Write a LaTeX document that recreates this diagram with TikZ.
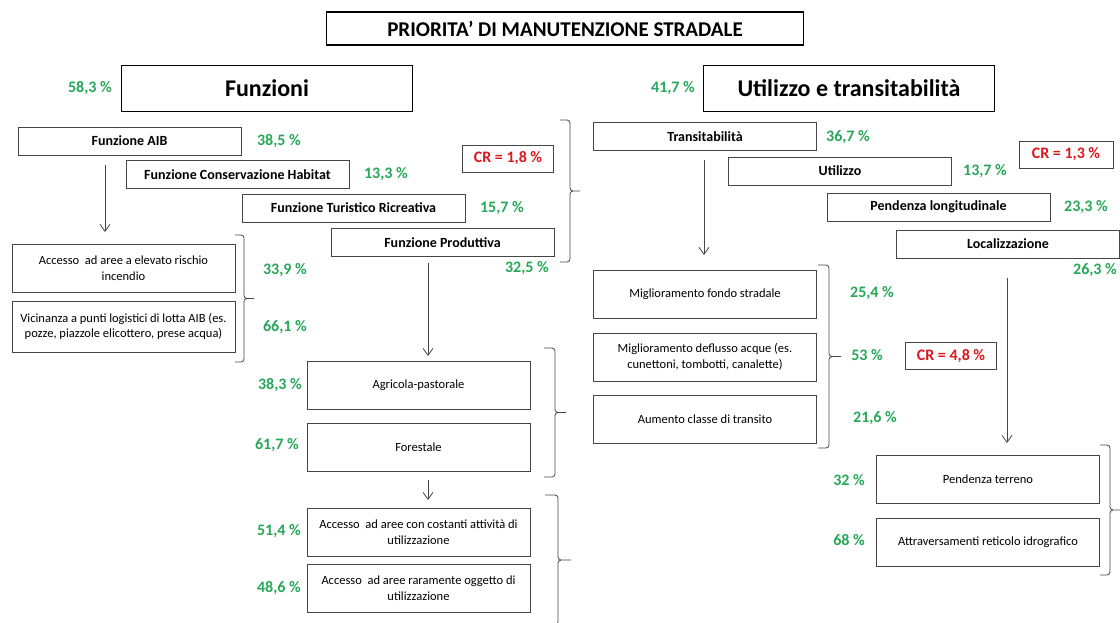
\documentclass[tikz,border=0pt]{standalone}
\usepackage{fontspec}
\setmainfont{Carlito}
\usetikzlibrary{arrows.meta}
\definecolor{pctgreen}{RGB}{38,168,88}
\definecolor{crred}{RGB}{220,24,30}
\definecolor{boxgray}{RGB}{70,70,70}

\begin{document}
\begin{tikzpicture}[x=1pt,y=-1pt,
    box/.style={draw=boxgray,line width=0.9pt,minimum width=223pt,minimum height=28pt,inner sep=2pt,font=\fontsize{14}{16}\selectfont\bfseries},
    subbox/.style={draw=boxgray,line width=0.9pt,minimum width=223pt,minimum height=48pt,inner sep=2pt,text width=215pt,align=flush center,font=\fontsize{12.5}{15.5}\selectfont},
    pct/.style={text=pctgreen,font=\fontsize{16}{18}\selectfont\bfseries},
    crbox/.style={draw=boxgray,line width=0.9pt,minimum width=91pt,minimum height=27pt,inner sep=2pt,text=crred,font=\fontsize{16}{18}\selectfont\bfseries},
    headbox/.style={draw=black,line width=1pt,minimum width=291pt,minimum height=46pt,font=\fontsize{24}{28}\selectfont\bfseries},
    arr/.style={draw=boxgray,line width=0.8pt,-{Straight Barb[length=7pt,width=10pt]}},
    brc/.style={draw=boxgray,line width=0.8pt,rounded corners=3pt}]
    \useasboundingbox (0,0) rectangle (1120,622);
    \node[draw=black,line width=1.2pt,minimum width=477pt,minimum height=33pt,font=\fontsize{21}{24}\selectfont\bfseries] (title) at (565,28.5) {PRIORITA’ DI MANUTENZIONE STRADALE};
    \node[headbox] (funz) at (267,88) {Funzioni};
    \node[headbox] (util) at (849,88) {Utilizzo e transitabilità};
    \node[pct] (pfunz) at (90,88) {58,3 \%};
    \node[pct] (putil) at (673,88) {41,7 \%};
    % funzioni
    \node[box] (aib) at (129.5,141) {Funzione AIB};
    \node[box] (habitat) at (237.5,174.5) {Funzione Conservazione Habitat};
    \node[box] (turist) at (353.5,208) {Funzione Turistico Ricreativa};
    \node[box] (produt) at (442.5,242.5) {Funzione Produttiva};
    \node[pct] (paib) at (279,141) {38,5 \%};
    \node[pct] (phabitat) at (386,174) {13,3 \%};
    \node[pct] (pturist) at (502,208) {15,7 \%};
    \node[pct] (pprodut) at (527,268) {32,5 \%};
    \node[crbox] (crfunz) at (508,158.5) {CR = 1,8 \%};
    \draw[brc] (560,120) -| (570,191) -- (580,191) (560,262) -| (570,191) -- (580,191);
    \node[subbox] (rischio) at (123.5,268) {Accesso\ \ ad aree a elevato rischio\\incendio};
    \node[subbox,minimum height=51pt] (vicin) at (123.5,326.5) {Vicinanza a punti logistici di lotta AIB (es.\\pozze, piazzole elicottero, prese acqua)};
    \node[pct] (prischio) at (285,270) {33,9 \%};
    \node[pct] (pvicin) at (285,327) {66,1 \%};
    \draw[brc] (235,235) -| (244,298.5) -- (254,298.5) (235,362) -| (244,298.5) -- (254,298.5);
    \node[subbox] (agri) at (418.5,385) {Agricola-pastorale};
    \node[subbox] (forest) at (418.5,447) {Forestale};
    \node[pct] (pagri) at (280,385) {38,3 \%};
    \node[pct] (pforest) at (277,445) {61,7 \%};
    \draw[brc] (544,348) -| (555,412.5) -- (566,412.5) (544,477) -| (555,412.5) -- (566,412.5);
    \node[subbox] (costanti) at (418.5,532) {Accesso\ \ ad aree con costanti attività di\\utilizzazione};
    \node[subbox] (raram) at (418.5,588) {Accesso\ \ ad aree raramente oggetto di\\utilizzazione};
    \node[pct] (pcostanti) at (279,531) {51,4 \%};
    \node[pct] (praram) at (279,588) {48,6 \%};
    \draw[brc] (545,495) -| (558,560) -- (571,560) (545,625) -| (558,560) -- (571,560);
    \coordinate (aibout) at (105,165);
    \coordinate (rischioin) at (105,232);
    \coordinate (produtout) at (428,263);
    \coordinate (agriin) at (428,356);
    \coordinate (forestout) at (428,480);
    \coordinate (costantiin) at (428,500);
    \draw[arr] (aibout) -- (rischioin);
    \draw[arr] (produtout) -- (agriin);
    \draw[arr] (forestout) -- (costantiin);
    % utilizzo e transitabilita
    \node[box] (transit) at (705,136.5) {Transitabilità};
    \node[box] (utilizzo) at (840,171) {Utilizzo};
    \node[box] (pendlong) at (938.5,207) {Pendenza longitudinale};
    \node[box] (local) at (1008,244) {Localizzazione};
    \node[pct] (ptransit) at (848,137) {36,7 \%};
    \node[pct] (putilizzo) at (985,171) {13,7 \%};
    \node[pct] (ppendlong) at (1086,207) {23,3 \%};
    \node[pct] (plocal) at (1095,270) {26,3 \%};
    \node[crbox,minimum width=94pt] (crutil) at (1066,154.5) {CR = 1,3 \%};
    \node[subbox] (fondo) at (705,294) {Miglioramento fondo stradale};
    \node[subbox] (deflusso) at (705,357) {Miglioramento deflusso acque (es.\\cunettoni, tombotti, canalette)};
    \node[subbox] (aumento) at (705,419.5) {Aumento classe di transito};
    \node[pct] (pfondo) at (872,293) {25,4 \%};
    \node[pct] (pdeflusso) at (867,355) {53 \%};
    \node[pct] (paumento) at (875,418) {21,6 \%};
    \node[crbox] (crtransit) at (951,356) {CR = 4,8 \%};
    \draw[brc] (818,265) -| (829,356.5) -- (841,356.5) (818,448) -| (829,356.5) -- (841,356.5);
    \node[subbox] (pendterr) at (988,479) {Pendenza terreno};
    \node[subbox] (attrav) at (988,542) {Attraversamenti reticolo idrografico};
    \node[pct] (ppendterr) at (849,480) {32 \%};
    \node[pct] (pattrav) at (849,540) {68 \%};
    \draw[brc] (1100,445) -| (1110,510) -- (1120,510) (1100,575) -| (1110,510) -- (1120,510);
    \coordinate (transitout) at (704,160);
    \coordinate (fondoin) at (704,255);
    \coordinate (localout) at (1007,278);
    \coordinate (pendterrin) at (1007,443);
    \draw[arr] (transitout) -- (fondoin);
    \draw[arr] (localout) -- (pendterrin);
\end{tikzpicture}
\end{document}
